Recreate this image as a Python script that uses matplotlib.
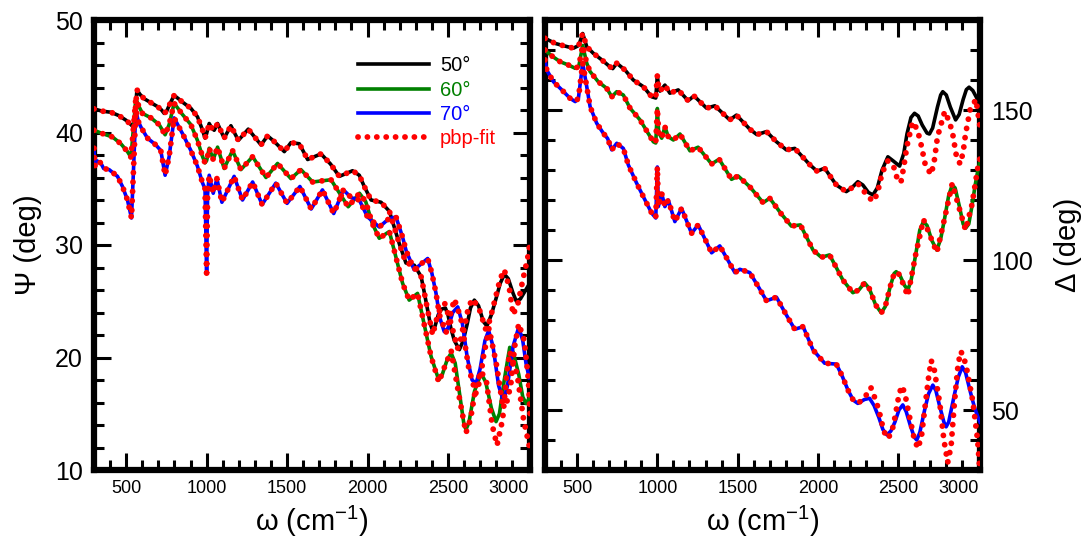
import numpy as np
import matplotlib
matplotlib.use("Agg")
import matplotlib.pyplot as plt
from matplotlib.ticker import MultipleLocator

plt.rcParams['font.family'] = ['Liberation Sans', 'DejaVu Sans']
plt.rcParams['mathtext.default'] = 'regular'

# ---- Psi (left panel) ----
w_psi50 = [300, 350, 405, 455, 498, 530, 548, 567, 585, 612, 654, 695, 720, 736, 752, 767, 798, 825,
           850, 902, 943, 975, 990, 1000, 1016, 1032, 1047, 1068, 1090, 1109, 1151, 1197, 1259, 1338,
           1379, 1420, 1483, 1524, 1576, 1628, 1711, 1770, 1825, 1907, 1949, 1980, 2022, 2084, 2136,
           2198, 2239, 2291, 2333, 2350, 2370, 2390, 2405, 2420, 2440, 2460, 2484, 2500, 2520, 2540,
           2571, 2595, 2620, 2640, 2664, 2690, 2720, 2742, 2770, 2800, 2825, 2851, 2875, 2905, 2925,
           2950, 2975, 3000, 3010]
psi50 = [42.1, 41.9, 41.8, 41.5, 41.1, 40.7, 40.4, 43.8, 43.4, 43.0, 42.65, 42.3, 42.0, 41.7, 41.9, 42.4,
         43.3, 43.0, 42.7, 42.15, 41.4, 40.2, 39.5, 39.9, 40.8, 40.4, 40.2, 40.8, 40.1, 39.5, 40.6, 39.3,
         40.3, 38.9, 39.7, 39.2, 38.3, 39.1, 39.0, 37.6, 38.1, 37.2, 36.1, 36.6, 36.2, 35.2, 34.0, 33.8,
         33.0, 30.1, 28.4, 28.2, 27.2, 26.0, 24.5, 23.0, 22.4, 22.8, 23.8, 24.3, 24.4, 23.8, 22.5, 21.5,
         20.7, 21.5, 23.0, 24.4, 25.1, 24.6, 23.2, 22.8, 23.8, 25.3, 26.6, 27.4, 27.0, 25.7, 25.0,
         25.2, 25.8, 26.4, 26.7]

w_psi60 = [300, 353, 415, 467, 508, 530, 560, 580, 601, 654, 705, 742, 767, 798, 850, 902, 943, 975,
           990, 1000, 1016, 1041, 1068, 1109, 1161, 1213, 1286, 1369, 1441, 1524, 1586, 1659, 1773,
           1880, 1950, 1989, 2030, 2073, 2136, 2218, 2259, 2311, 2395, 2420, 2443, 2465, 2495, 2520,
           2545, 2575, 2600, 2612, 2630, 2665, 2706, 2735, 2770, 2799, 2820, 2850, 2884, 2905, 2940,
           2965, 2986, 3010]
psi60 = [40.2, 39.9, 39.6, 39.0, 38.3, 37.8, 43.0, 42.3, 41.7, 41.3, 40.7, 39.8, 40.7, 42.6, 41.6, 40.7,
         39.3, 37.85, 37.3, 37.5, 38.6, 37.6, 38.7, 36.8, 38.4, 36.7, 37.85, 36.0, 37.25, 35.9, 36.7,
         35.6, 35.8, 33.4, 34.6, 33.85, 31.9, 30.6, 31.2, 26.6, 25.1, 25.7, 20.1, 19.0, 18.0, 18.5,
         19.8, 20.4, 19.5, 16.5, 14.0, 13.6, 14.2, 17.0, 18.6, 17.8, 15.5, 14.3, 15.0, 18.0, 20.9,
         20.5, 18.5, 16.5, 15.9, 16.5]

w_psi70 = [300, 305, 315, 342, 360, 394, 446, 477, 508, 533, 545, 560, 575, 591, 632, 684, 715, 742,
           767, 798, 850, 902, 943, 975, 990, 1000, 1006, 1016, 1041, 1064, 1095, 1171, 1223, 1286,
           1345, 1430, 1500, 1580, 1650, 1720, 1790, 1850, 1900, 1949, 2000, 2073, 2130, 2177, 2218,
           2240, 2290, 2374, 2400, 2426, 2450, 2477, 2500, 2530, 2561, 2590, 2620, 2650, 2675, 2700,
           2730, 2753, 2780, 2815, 2845, 2870, 2905, 2940, 2965, 2985, 3005]
psi70 = [38.6, 37.0, 37.5, 37.3, 36.8, 36.7, 36.1, 35.2, 34.0, 32.4, 36.5, 42.0, 41.0, 40.5, 39.5, 38.9,
         38.4, 36.2, 37.85, 41.3, 39.9, 38.4, 37.0, 35.5, 35.0, 27.5, 34.5, 36.2, 34.6, 35.9, 33.8, 36.1,
         34.0, 35.6, 33.6, 35.5, 33.7, 35.2, 33.2, 34.9, 32.8, 34.9, 34.2, 34.0, 32.5, 31.6, 32.3, 32.5,
         30.7, 29.5, 27.8, 28.8, 27.5, 25.7, 23.5, 22.3, 22.6, 24.0, 24.5, 23.0, 20.0, 18.0, 17.7, 19.0,
         21.5, 22.4, 21.0, 17.5, 16.1, 17.5, 21.0, 22.7, 21.5, 19.5, 18.2]

# pbp-fit: same as data below the cut, own values above it
fit50_psi_cut = 2380
fit50_psi_w = [2405, 2440, 2480, 2520, 2560, 2600, 2625, 2650, 2690, 2735, 2760, 2790, 2825, 2850, 2880,
               2905, 2935, 2970, 2995, 3008]
fit50_psi_v = [22.0, 24.0, 24.8, 23.0, 20.8, 22.5, 24.3, 25.2, 24.5, 22.5, 23.3, 25.0, 27.0, 27.8, 26.3,
               23.8, 24.8, 27.2, 28.8, 30.0]
fit60_psi_cut = 2420
fit60_psi_w = [2443, 2480, 2520, 2570, 2612, 2640, 2675, 2706, 2740, 2775, 2805, 2840, 2865, 2884, 2930,
               2970, 3000, 3010]
fit60_psi_v = [17.8, 19.2, 20.6, 16.5, 13.3, 14.5, 17.5, 18.8, 17.8, 14.0, 12.2, 14.5, 18.5, 20.5, 18.5,
               14.5, 12.5, 11.8]
fit70_psi_cut = 2430
fit70_psi_w = [2447, 2488, 2515, 2540, 2580, 2630, 2673, 2700, 2720, 2755, 2800, 2840, 2865, 2890, 2915,
               2940, 2975, 3000, 3010]
fit70_psi_v = [23.8, 22.2, 23.8, 25.2, 23.5, 19.0, 16.8, 18.0, 20.0, 22.6, 19.5, 15.8, 16.0, 17.5, 21.0,
               23.0, 21.5, 18.0, 15.0]

# ---- Delta (right panel) ----
w_del50 = [300, 363, 425, 477, 510, 535, 560, 601, 654, 705, 722, 747, 799, 850, 912, 965, 990, 1000,
           1008, 1016, 1047, 1078, 1130, 1192, 1228, 1307, 1358, 1451, 1493, 1576, 1620, 1680, 1740,
           1804, 1856, 1949, 1995, 2042, 2115, 2177, 2210, 2249, 2280, 2315, 2343, 2370, 2400, 2436,
           2470, 2509, 2535, 2555, 2580, 2602, 2625, 2650, 2680, 2695, 2715, 2745, 2765, 2778, 2800,
           2825, 2858, 2880, 2905, 2925, 2942, 2965, 2986, 3010]
del50 = [173.9, 172.2, 171.3, 170.6, 171.5, 175.5, 171.1, 168.9, 166.7, 164.4, 163.8, 165.6, 163.3,
         160.0, 157.8, 154.4, 154.0, 161.5, 157.5, 156.3, 158.3, 155.6, 156.7, 153.1, 154.7, 150.6,
         151.4, 146.7, 148.3, 143.6, 141.8, 142.8, 139.5, 136.7, 137.2, 131.8, 129.6, 130.6, 125.0,
         122.8, 124.0, 126.1, 125.0, 122.5, 121.7, 124.0, 130.0, 134.4, 133.0, 131.3, 135.5, 142.0,
         147.5, 148.9, 148.0, 145.0, 142.3, 142.0, 144.0, 151.0, 155.0, 156.1, 155.0, 151.0, 146.7,
         148.5, 153.5, 156.8, 157.6, 156.5, 154.4, 152.0]

w_del60 = [300, 343, 394, 446, 488, 510, 535, 560, 581, 632, 685, 716, 747, 788, 830, 892, 943, 975,
           990, 1000, 1008, 1027, 1047, 1068, 1100, 1141, 1203, 1254, 1338, 1385, 1462, 1503, 1576,
           1659, 1700, 1770, 1835, 1891, 1970, 2022, 2073, 2156, 2218, 2255, 2291, 2320, 2360, 2395,
           2420, 2450, 2475, 2488, 2510, 2540, 2560, 2580, 2610, 2635, 2658, 2680, 2710, 2741, 2765,
           2790, 2815, 2837, 2855, 2882, 2905, 2920, 2940, 2960, 2980, 2997, 3010]
del60 = [170.0, 168.0, 166.1, 165.0, 163.9, 164.5, 171.5, 165.6, 162.8, 159.4, 157.2, 154.4, 156.1,
         155.0, 150.6, 146.7, 142.2, 139.4, 139.0, 150.5, 142.5, 140.6, 144.4, 141.1, 140.0, 142.0,
         136.4, 137.6, 132.0, 133.6, 126.9, 128.0, 124.4, 119.1, 120.6, 115.5, 111.3, 111.7, 103.3,
         100.9, 101.7, 93.3, 89.1, 90.0, 92.4, 90.5, 85.0, 82.4, 84.5, 91.0, 95.5, 96.1, 95.0, 91.5,
         90.0, 93.0, 102.0, 110.0, 112.8, 111.5, 106.5, 103.3, 107.0, 114.0, 121.5, 125.0, 124.0,
         117.8, 112.0, 110.6, 112.0, 118.0, 125.0, 130.0, 133.0]

w_del70 = [300, 311, 353, 405, 456, 488, 508, 535, 560, 581, 622, 664, 690, 716, 747, 788, 819, 871,
           923, 965, 990, 1000, 1006, 1027, 1047, 1068, 1109, 1151, 1213, 1254, 1338, 1389, 1483, 1514,
           1576, 1630, 1680, 1742, 1800, 1856, 1908, 1970, 2042, 2115, 2150, 2187, 2220, 2249, 2290,
           2322, 2350, 2380, 2405, 2430, 2455, 2480, 2505, 2529, 2550, 2575, 2600, 2616, 2635, 2665,
           2690, 2716, 2735, 2760, 2785, 2799, 2815, 2850, 2875, 2899, 2920, 2950, 2975, 2996, 3010]
del70 = [166.7, 163.3, 159.4, 156.7, 153.9, 152.8, 153.9, 165.6, 157.8, 151.1, 145.6, 142.2, 140.5,
         136.7, 138.9, 137.2, 131.7, 125.6, 120.0, 115.6, 114.0, 131.0, 117.8, 122.2, 117.8, 120.0,
         112.8, 117.2, 108.9, 111.7, 102.4, 104.7, 95.8, 96.9, 95.8, 91.0, 86.4, 87.6, 82.0, 76.9,
         77.8, 70.0, 65.6, 65.3, 61.5, 56.7, 53.3, 52.2, 53.5, 53.9, 51.5, 47.5, 43.5, 41.7, 43.0,
         46.0, 50.0, 51.7, 49.5, 45.0, 41.0, 40.0, 42.5, 50.0, 55.5, 58.3, 56.5, 51.0, 46.0, 44.4,
         46.0, 55.0, 61.0, 64.4, 62.5, 56.0, 51.0, 47.8, 46.0]

fit50_del_cut = 2220
fit50_del_w = [2249, 2300, 2343, 2370, 2400, 2436, 2470, 2495, 2517, 2535, 2555, 2590, 2620, 2645, 2670,
               2706, 2725, 2745, 2790, 2820, 2840, 2865, 2887, 2905, 2920, 2950, 2985, 3008]
fit50_del_v = [125.5, 122.0, 119.5, 122.0, 129.0, 133.0, 131.5, 127.0, 125.8, 131.0, 138.0, 146.0,
               143.5, 138.0, 131.5, 128.5, 133.0, 141.0, 149.5, 146.0, 142.0, 134.0, 132.0, 136.0,
               142.0, 150.5, 153.5, 145.0]
fit60_del_cut = 2530
fit60_del_w = [2560, 2610, 2658, 2741, 2790, 2837, 2882, 2920, 2960, 2997, 3010]
fit60_del_v = [88.0, 102.0, 113.5, 102.5, 114.0, 125.5, 117.0, 110.0, 118.5, 131.0, 134.0]
fit70_del_cut = 2270
fit70_del_w = [2290, 2330, 2355, 2380, 2410, 2435, 2460, 2480, 2500, 2520, 2540, 2570, 2600, 2623, 2645,
               2665, 2690, 2706, 2725, 2760, 2785, 2809, 2830, 2850, 2870, 2888, 2905, 2930, 2965,
               2995, 3008]
fit70_del_v = [54.0, 57.5, 54.0, 50.0, 43.0, 40.5, 42.5, 47.5, 53.5, 58.0, 56.0, 48.0, 40.5, 37.2, 41.0,
               50.0, 61.0, 66.5, 63.5, 52.0, 40.0, 32.5, 38.0, 52.0, 63.5, 69.5, 68.5, 63.0, 53.0,
               40.0, 30.5]

angles = ['50°', '60°', '70°']
colors = ['black', '#008000', '#0000ff']
fit_color = '#ff0000'


def join_fit(w, v, cut, w_tail, v_tail):
    w = np.asarray(w, float)
    v = np.asarray(v, float)
    keep = w < cut
    return np.concatenate([w[keep], w_tail]), np.concatenate([v[keep], v_tail])


def style_axis(ax, ymajor, yminor):
    for s in ax.spines.values():
        s.set_linewidth(4.5)
    ax.set_xlim(300, 3010)
    ax.xaxis.set_major_locator(MultipleLocator(500))
    ax.xaxis.set_minor_locator(MultipleLocator(100))
    ax.yaxis.set_major_locator(MultipleLocator(ymajor))
    ax.yaxis.set_minor_locator(MultipleLocator(yminor))
    ax.tick_params(which='both', direction='in', top=True, bottom=True, left=True, right=True, width=2.2)
    ax.tick_params(which='major', length=12)
    ax.tick_params(which='minor', length=7)
    ax.tick_params(axis='x', labelsize=13, pad=7)
    ax.tick_params(axis='y', labelsize=18, pad=8)
    ax.set_xlabel('ω (cm$^{-1}$)', fontsize=21)
    ax.xaxis.set_label_coords(0.5, -0.075)


fig = plt.figure(figsize=(10.9, 5.41), dpi=100)
ax1 = fig.add_axes([94 / 1090, 71 / 541, 436 / 1090, 450 / 541])
ax2 = fig.add_axes([545 / 1090, 71 / 541, 435 / 1090, 450 / 541])

psi_data = [(w_psi50, psi50), (w_psi60, psi60), (w_psi70, psi70)]
psi_fits = [join_fit(w_psi50, psi50, fit50_psi_cut, fit50_psi_w, fit50_psi_v),
            join_fit(w_psi60, psi60, fit60_psi_cut, fit60_psi_w, fit60_psi_v),
            join_fit(w_psi70, psi70, fit70_psi_cut, fit70_psi_w, fit70_psi_v)]
del_data = [(w_del50, del50), (w_del60, del60), (w_del70, del70)]
del_fits = [join_fit(w_del50, del50, fit50_del_cut, fit50_del_w, fit50_del_v),
            join_fit(w_del60, del60, fit60_del_cut, fit60_del_w, fit60_del_v),
            join_fit(w_del70, del70, fit70_del_cut, fit70_del_w, fit70_del_v)]

dot_style = dict(color=fit_color, lw=4.2, ls=(0, (0.01, 1.6)), dash_capstyle='round', zorder=5)

handles = []
for ax, data, fits in [(ax1, psi_data, psi_fits), (ax2, del_data, del_fits)]:
    for (w, v), c, a in zip(data, colors, angles):
        h, = ax.plot(w, v, color=c, lw=2.6, solid_joinstyle='round', label=a, zorder=3)
        if ax is ax1:
            handles.append(h)
    for w, v in fits:
        h, = ax.plot(w, v, label='pbp-fit', **dot_style)
    if ax is ax1:
        handles.append(h)

ax1.set_ylim(10, 50)
style_axis(ax1, 10, 2)
ax1.set_ylabel('Ψ (deg)', fontsize=21)
ax1.yaxis.set_label_coords(-0.12, 0.5)

ax2.set_ylim(30, 180)
style_axis(ax2, 50, 10)
ax2.tick_params(axis='y', labelleft=False, labelright=True)
ax2.yaxis.set_label_position('right')
ax2.set_ylabel('Δ (deg)', fontsize=21)
ax2.yaxis.set_label_coords(1.17, 0.5)

# the 3000 label sits at the frame edge: right-align it like the original
fig.canvas.draw()
for ax in (ax1, ax2):
    for tick in ax.xaxis.get_major_ticks():
        if abs(tick.get_loc() - 3000) < 1:
            tick.label1.set_horizontalalignment('right')
            tick.label1.set_x(3008)

ax1.legend(handles=handles, loc='upper left', bbox_to_anchor=(0.606, 0.919), frameon=False,
           fontsize=14.5, handlelength=3.5, handletextpad=0.55, labelspacing=0.265,
           borderpad=0, borderaxespad=0, labelcolor='linecolor')

fig.savefig('out.png', dpi=100)
